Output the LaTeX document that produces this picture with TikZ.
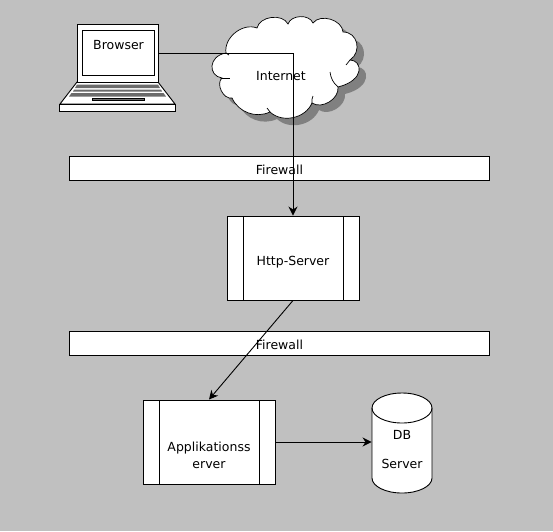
\documentclass[tikz,border=0pt]{standalone}
\usepackage{fontspec}
\setmainfont{DejaVu Sans}
\usetikzlibrary{arrows.meta, positioning, shapes.geometric}
\usepackage{xcolor}
\definecolor{bggray}{gray}{0.753}
\definecolor{shadowgray}{gray}{0.5}
\definecolor{keygray}{gray}{0.42}
\newcommand{\cloudpath}{(226,53) to[bend left=60] (257,28) to[bend left=70] (288,24) to[bend left=70] (313,23) to[bend left=70] (343,32) .. controls (358,32) and (362,52) .. (350,60) .. controls (362,60) and (366,80) .. (338,87) to[bend left=65] (312,103) to[bend left=55] (270,112) to[bend left=45] (232,98) to[bend left=75] (222,78) .. controls (208,76) and (208,56) .. (226,53) -- cycle}

\begin{document}
\begin{tikzpicture}[x=1pt, y=-1pt, line width=0.9pt, font=\fontsize{12.5}{15}\selectfont]
            \tikzstyle{firewall} = [rectangle, draw, fill=white, minimum width=420pt, minimum height=24pt, inner sep=0pt]
            \tikzstyle{process} = [rectangle, draw, fill=white, minimum width=132pt, minimum height=84pt, text width=98pt, inner sep=0pt, align=center,
                path picture={
                    \draw ([xshift=16pt]path picture bounding box.north west) -- ([xshift=16pt]path picture bounding box.south west);
                    \draw ([xshift=-16pt]path picture bounding box.north east) -- ([xshift=-16pt]path picture bounding box.south east);
                }]
            \tikzstyle{line} = [draw, -{Stealth[length=9pt, width=9pt]}]

            \useasboundingbox (0,0) rectangle (553,531);
            \fill [bggray] (0,0) rectangle (553,531);

            % laptop
            \draw [fill=white] (77,82) -- (60,104) -- (175,104) -- (158,82) -- cycle;
            \fill [keygray] (77,84.5) -- (158,84.5) -- (160,88) -- (75,88) -- cycle;
            \fill [keygray] (74,89.5) -- (161,89.5) -- (162,91.5) -- (73,91.5) -- cycle;
            \fill [keygray] (71.5,93) -- (163.5,93) -- (166,96.5) -- (69,96.5) -- cycle;
            \draw [fill=keygray, line width=0.5pt] (92,98) rectangle (144,100);
            \node [draw, fill=white, minimum width=116pt, minimum height=7pt, inner sep=0pt] (base) at (117.5,107.5) {};
            \node [draw, fill=white, minimum width=81pt, minimum height=58pt, inner sep=0pt] (lid) at (117.5,53) {};
            \node [draw, fill=white, minimum width=72pt, minimum height=45pt, inner sep=0pt, anchor=north west] (screen) at (82,30) {};
            \node (browser) at (118.5,45.5) {Browser};

            % cloud
            \fill [shadowgray, shift={(7,7)}] \cloudpath;
            \draw [fill=white, line width=0.7pt] \cloudpath;
            \draw [line width=0.7pt] (222,78) -- (230,78);
            \draw [line width=0.7pt] (226,53) -- (229,55);
            \draw [line width=0.7pt] (338,87) to[bend left=20] (330,72);
            \draw [line width=0.7pt] (350,60) -- (346,65);
            \draw [line width=0.7pt] (312,103) to[bend left=15] (313,96);
            \draw [line width=0.7pt] (270,112) -- (267,108);
            \node (internet) at (281,76) {Internet};

            \node [firewall] (fw1) at (279.5,168) {\rule{0pt}{14pt}Firewall};
            \node [firewall] (fw2) at (279.5,343) {\rule{0pt}{14pt}Firewall};
            \node [process] (http) at (293,258) {\rule{0pt}{18pt}Http-Server};
            \node [process] (app) at (209,442) {\rule{0pt}{36pt}Applikationss\\[2pt]erver};

            % database
            \node [minimum width=60pt, minimum height=100pt, inner sep=0pt] (db) at (402,442) {};
            \draw [fill=white] (372,408) arc [start angle=180, end angle=360, x radius=30, y radius=15] -- (432,478) arc [start angle=0, end angle=180, x radius=30, y radius=15] -- cycle;
            \draw (372,408) arc [start angle=180, end angle=0, x radius=30, y radius=15];
            \node (dblabel) at (402,435) {DB};
            \node [below=15pt of dblabel, inner sep=0pt] (dbserver) {Server};

            \path [line] (lid.east) -| (http.north);
            \path [line] (http.south) -- (app.north);
            \path [line] (app.east) -- (db.west);
        \end{tikzpicture}
\end{document}
